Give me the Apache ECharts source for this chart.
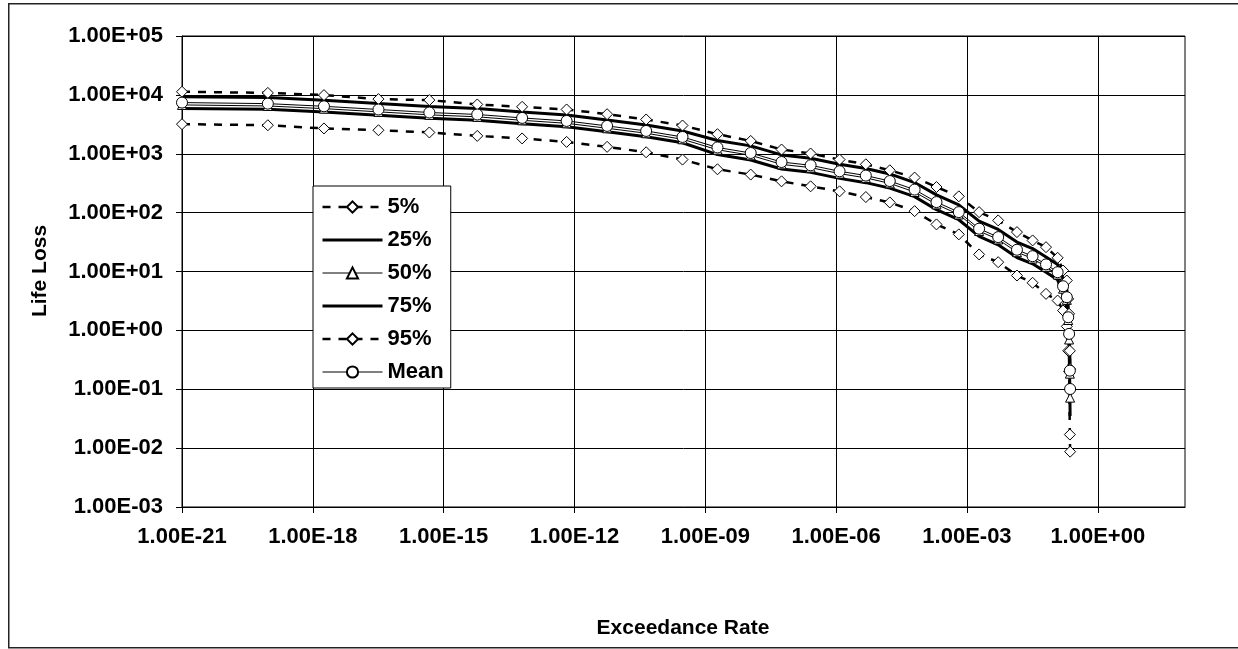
<!DOCTYPE html>
<html>
<head>
<meta charset="utf-8">
<script src="https://cdn.jsdelivr.net/npm/echarts@6/dist/echarts.min.js"></script>
<style>
html,body{margin:0;padding:0;background:#fff;}
#chart{width:1238px;height:649px;}
</style>
</head>
<body>
<div id="chart"></div>
<script>
// Exceedance rate (x) shared by all series
const rates = [1.0e-21, 9.3e-20, 1.8e-18, 3.2e-17, 4.7e-16, 5.9e-15, 6.3e-14, 6.6e-13, 5.6e-12, 4.4e-11,
  3.0e-10, 1.9e-9, 1.1e-8, 5.6e-8, 2.6e-7, 1.2e-6, 4.8e-6, 1.7e-5, 6.3e-5, 2.0e-4,
  6.5e-4, 1.9e-3, 5.2e-3, 1.4e-2, 3.2e-2, 6.5e-2, 0.12, 0.16, 0.195, 0.21,
  0.22, 0.229, 0.232];

const p5 = [3180, 3050, 2690, 2510, 2300, 2010, 1820, 1590, 1310, 1060,
  796, 545, 443, 340, 280, 230, 184, 149, 106, 63.1,
  42.7, 19.5, 14.4, 8.55, 6.43, 4.17, 3.21, 2.17, 1.17, 0.45,
  0.2, 0.017, 0.0087];

const p25 = [5890, 5700, 5140, 4510, 4010, 3710, 3240, 2880, 2370, 1950,
  1540, 968, 783, 550, 483, 382, 323, 261, 187, 112,
  75.7, 39.5, 28.4, 17.3, 13.5, 9.75, 7.21, 3.98, 2.4, 1.0,
  0.5, 0.1, 0.035];

const p50 = [6750, 6480, 5840, 5150, 4580, 4240, 3700, 3290, 2710, 2230,
  1760, 1170, 940, 660, 581, 460, 389, 314, 224, 138,
  93, 48.6, 35, 21.3, 16.6, 12, 8.87, 5.1, 3.3, 1.5,
  0.7, 0.184, 0.072];

const p75 = [9290, 8990, 8110, 7110, 6320, 5850, 5120, 4550, 3740, 3080,
  2430, 1680, 1360, 955, 839, 664, 561, 454, 324, 200,
  135, 71.9, 51.8, 31.6, 24.5, 17.7, 13.1, 7.59, 4.93, 2.5,
  1.26, 0.355, 0.16];

const p95 = [11300, 10800, 9910, 8470, 8150, 6870, 6270, 5650, 4700, 3820,
  3020, 2150, 1650, 1180, 1010, 796, 662, 524, 394, 272,
  189, 102, 73.8, 46.7, 33.7, 25.9, 17.1, 10.4, 7.03, 3.43,
  1.91, 0.45, 0.22];

const meanVals = [7400, 7100, 6400, 5650, 5020, 4650, 4060, 3610, 2970, 2440,
  1930, 1280, 1030, 724, 637, 504, 426, 344, 246, 151,
  102, 53.3, 38.4, 23.4, 18.2, 13.2, 9.73, 5.62, 3.66, 1.67,
  0.871, 0.207, 0.101];

const seriesNames = ['5%', '25%', '50%', '75%', '95%', 'Mean'];
const xTickValues = [1e-21, 1e-18, 1e-15, 1e-12, 1e-9, 1e-6, 1e-3, 1];

const FONT = "'Liberation Sans', Arial, sans-serif";

function sci(v) {
  const e = Math.round(Math.log10(v));
  const a = Math.abs(e);
  return '1.00E' + (e < 0 ? '-' : '+') + (a < 10 ? '0' + a : '' + a);
}

function pairs(ys) { return rates.map((r, i) => [r, ys[i]]); }

const dashStyle = { color: '#000', width: 2.5, type: [8, 8] };
const markerStyle = { color: '#fff', borderColor: '#000', borderWidth: 1 };

const series = [
  { name: seriesNames[0], data: pairs(p5), symbol: 'diamond', symbolSize: 11, lineStyle: dashStyle, itemStyle: markerStyle },
  { name: seriesNames[1], data: pairs(p25), symbol: 'none', lineStyle: { color: '#000', width: 3 }, itemStyle: { color: '#000' } },
  { name: seriesNames[2], data: pairs(p50), symbol: 'triangle', symbolSize: 9, lineStyle: { color: '#000', width: 1 }, itemStyle: markerStyle },
  { name: seriesNames[3], data: pairs(p75), symbol: 'none', lineStyle: { color: '#000', width: 3 }, itemStyle: { color: '#000' } },
  { name: seriesNames[4], data: pairs(p95), symbol: 'diamond', symbolSize: 11, lineStyle: dashStyle, itemStyle: markerStyle },
  { name: seriesNames[5], data: pairs(meanVals), symbol: 'circle', symbolSize: 11, lineStyle: { color: '#000', width: 1 }, itemStyle: markerStyle }
].map(s => Object.assign({ type: 'line', showSymbol: s.symbol !== 'none', showAllSymbol: true, z: 3 }, s));

const hiddenIcon = { opacity: 0, color: 'rgba(0,0,0,0)', borderColor: 'rgba(0,0,0,0)', borderWidth: 0 };

const chart = echarts.init(document.getElementById('chart'), null, { renderer: 'canvas' });
chart.setOption({
  animation: false,
  backgroundColor: '#fff',
  grid: { left: 182, right: 53, top: 36, bottom: 142, show: true, borderColor: '#000', borderWidth: 1, backgroundColor: 'transparent' },
  xAxis: {
    type: 'log', logBase: 1000, min: 1e-21, max: 100, interval: 1,
    axisLine: { show: true, lineStyle: { color: '#000', width: 1 } },
    axisTick: { show: true, inside: false, length: 6, lineStyle: { color: '#000' }, customValues: xTickValues },
    axisLabel: { show: true, margin: 19, fontFamily: FONT, fontSize: 22, fontWeight: 'bold', color: '#000',
      formatter: v => sci(v), customValues: xTickValues },
    splitLine: { show: true, lineStyle: { color: '#000', width: 1 } },
    minorTick: { show: false }, minorSplitLine: { show: false }
  },
  yAxis: {
    type: 'log', logBase: 10, min: 1e-3, max: 1e5, interval: 1,
    axisLine: { show: true, lineStyle: { color: '#000', width: 1 } },
    axisTick: { show: true, inside: false, length: 6, lineStyle: { color: '#000' } },
    axisLabel: { show: true, margin: 19, fontFamily: FONT, fontSize: 22, fontWeight: 'bold', color: '#000', formatter: v => sci(v) },
    splitLine: { show: true, lineStyle: { color: '#000', width: 1 } }
  },
  legend: {
    orient: 'vertical', left: 313, top: 186,
    padding: [10, 7, 5, 8],
    itemWidth: 60, itemHeight: 14, itemGap: 11,
    backgroundColor: '#fff', borderColor: '#000', borderWidth: 1,
    textStyle: { fontFamily: FONT, fontSize: 22, fontWeight: 'bold', color: '#000', lineHeight: 22 },
    data: [
      { name: '5%', lineStyle: { width: 2.5 } },
      { name: '25%', itemStyle: hiddenIcon, lineStyle: { width: 3 } },
      { name: '50%', lineStyle: { width: 1 } },
      { name: '75%', itemStyle: hiddenIcon, lineStyle: { width: 3 } },
      { name: '95%', lineStyle: { width: 2.5 } },
      { name: 'Mean', lineStyle: { width: 1 } }
    ]
  },
  graphic: [
    { type: 'rect', left: 8, top: 3, z: -10, silent: true,
      shape: { width: 1240, height: 644 }, style: { fill: 'transparent', stroke: '#222', lineWidth: 1.5 } },
    { type: 'text', x: 683, y: 628, silent: true,
      style: { text: 'Exceedance Rate', font: "bold 21px 'Liberation Sans', Arial, sans-serif", fill: '#000', align: 'center', verticalAlign: 'middle' } },
    { type: 'text', x: 40, y: 271, rotation: Math.PI / 2, silent: true,
      style: { text: 'Life Loss', font: "bold 21px 'Liberation Sans', Arial, sans-serif", fill: '#000', align: 'center', verticalAlign: 'middle' } }
  ],
  series: series
});
</script>
</body>
</html>
